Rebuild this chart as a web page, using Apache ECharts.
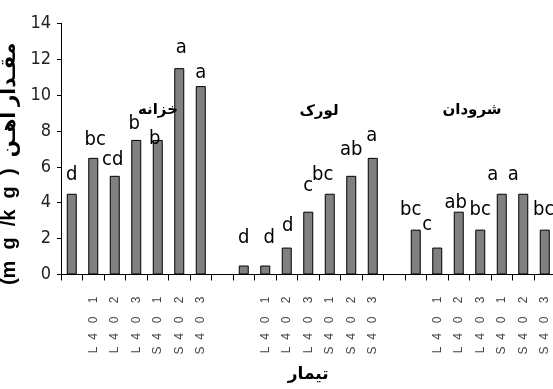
<!DOCTYPE html>
<html>
<head>
<meta charset="utf-8">
<script src="https://cdn.jsdelivr.net/npm/echarts@6/dist/echarts.min.js"></script>
<style>html,body{margin:0;padding:0;background:#fff}#c{width:553px;height:389px}</style>
</head>
<body>
<div id="c"></div>
<script>
// ---- data ----
const categories = ['', 'L40 1', 'L40 2', 'L40 3', 'S40 1', 'S40 2', 'S40 3', '',
                    '', 'L40 1', 'L40 2', 'L40 3', 'S40 1', 'S40 2', 'S40 3', '',
                    '', 'L40 1', 'L40 2', 'L40 3', 'S40 1', 'S40 2', 'S40 3'];
const ironValues = [4.5, 6.5, 5.5, 7.5, 7.5, 11.5, 10.5, null,
                    0.5, 0.5, 1.5, 3.5, 4.5, 5.5, 6.5, null,
                    2.5, 1.5, 3.5, 2.5, 4.5, 4.5, 2.5];
const letters = ['d', 'bc', 'cd', 'b', 'b', 'a', 'a', '',
                 'd', 'd', 'd', 'c', 'bc', 'ab', 'a', '',
                 'bc', 'c', 'ab', 'bc', 'a', 'a', 'bc'];
const groupNames = ['خزانه', 'لورک', 'شرودان'];
const yTicks = {min: 0, max: 14, interval: 2};
const yTitle = '(m  g  /k  g  )  مقـدار آهـن';
const xTitle = 'تیمار';

// ---- layout nudges for letter labels (dx, dy in px) ----
const labelNudge = [[0,1],[2,2],[-2,4],[-2,4],[-3,19],[2,0],[0,7],[0,0],
                    [0,-8],[4,-8],[1,-2],[0,-6],[-7,1],[0,-6],[-1,-2],[0,0],
                    [-5,0],[-10,-3],[-3,11],[0,0],[-9,1],[-10,1],[-1,0]];

const chart = echarts.init(document.getElementById('c'), null, {renderer: 'canvas'});
const narrow = '"Liberation Sans Narrow", "DejaVu Sans Condensed", sans-serif';

const seriesData = ironValues.map((v, i) => ({
  value: v,
  label: {formatter: letters[i], offset: labelNudge[i]}
}));

function spaced(v) {
  if (!v) return '';
  return v[0] + '  ' + v[1] + '   ' + v[2] + '    ' + v[4];
}

const groupFont = 'bold 15px "DejaVu Sans"';
function groupText(name, x, y) {
  return {type: 'text', x: x, y: y, z: 100, zlevel: 1, style: {text: name, font: groupFont, align: 'center', verticalAlign: 'middle', textAlign: 'center', textVerticalAlign: 'middle', fill: '#000'}};
}

chart.setOption({
  animation: false,
  backgroundColor: '#fff',
  grid: {left: 61, right: -2.5, top: 23.3, bottom: 114.5, containLabel: false, outerBoundsMode: 'none'},
  xAxis: {
    type: 'category',
    data: categories,
    boundaryGap: true,
    axisLine: {show: true, lineStyle: {color: '#000', width: 1}},
    axisTick: {show: true, length: 6, interval: 0, lineStyle: {color: '#000'}},
    axisLabel: {
      interval: 0, rotate: 90, margin: 22, formatter: spaced,
      fontFamily: '"Liberation Sans", Arial, sans-serif', fontSize: 12, color: '#444'
    },
    name: xTitle,
    nameLocation: 'middle',
    nameGap: 92,
    nameTextStyle: {fontFamily: '"DejaVu Sans", sans-serif', fontWeight: 'bold', fontSize: 17, color: '#000'}
  },
  yAxis: {
    type: 'value',
    min: yTicks.min, max: yTicks.max, interval: yTicks.interval,
    axisLine: {show: true, lineStyle: {color: '#000', width: 1}},
    axisTick: {show: true, length: 4, lineStyle: {color: '#000'}},
    splitLine: {show: false},
    axisLabel: {margin: 10, fontFamily: narrow, fontSize: 18, color: '#222'},
    name: yTitle,
    nameLocation: 'middle',
    nameRotate: 90,
    nameGap: 35,
    nameTextStyle: {
      fontFamily: '"Liberation Sans", "DejaVu Sans", sans-serif', fontWeight: 'bold',
      fontSize: 20, color: '#000', padding: [0, 30, 0, 0]
    }
  },
  series: [{
    type: 'bar',
    data: seriesData,
    barWidth: 10,
    itemStyle: {color: '#808080', borderColor: '#000', borderWidth: 1},
    label: {
      show: true, position: 'top', distance: 10,
      fontFamily: narrow, fontSize: 20, color: '#000'
    }
  }],
  graphic: [
    groupText(groupNames[0], 158, 110),
    groupText(groupNames[1], 319, 111),
    groupText(groupNames[2], 472, 110)
  ]
});
</script>
</body>
</html>
